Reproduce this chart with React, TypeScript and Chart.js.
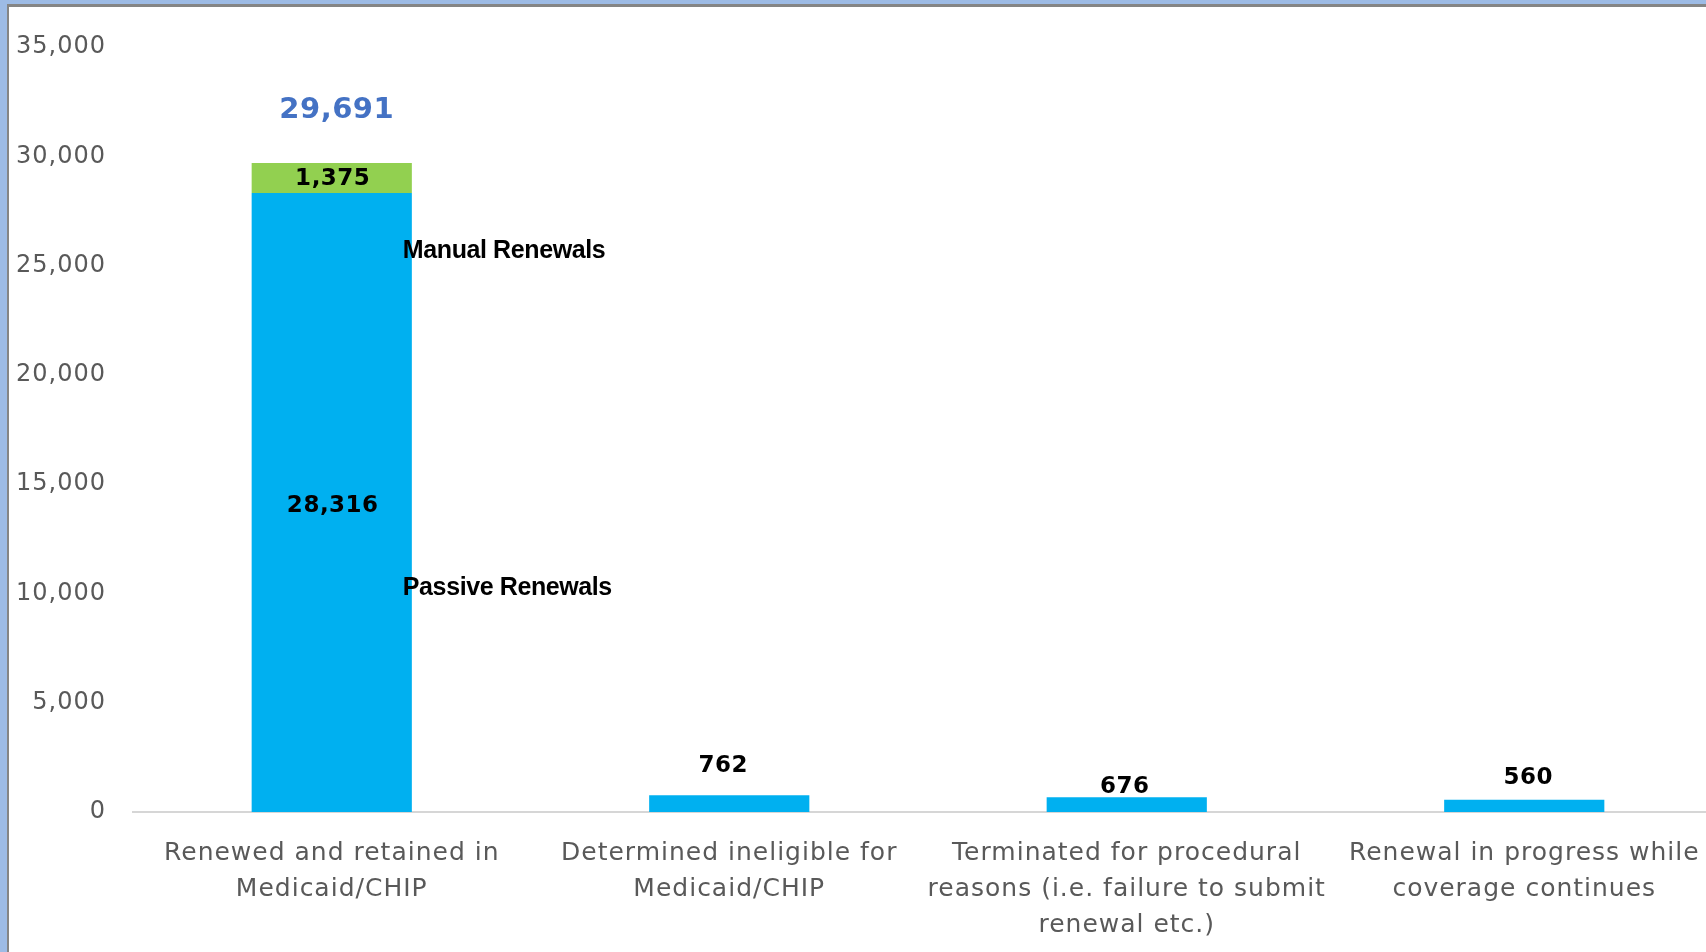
import React, { useEffect, useRef } from "react";
import { Chart, registerables } from "chart.js";

Chart.register(...registerables);

// ---- data ----
const CATEGORIES: string[][] = [
  ["Renewed and retained in", "Medicaid/CHIP"],
  ["Determined ineligible for", "Medicaid/CHIP"],
  ["Terminated for procedural", "reasons (i.e. failure to submit", "renewal etc.)"],
  ["Renewal in progress while", "coverage continues"],
];
const PASSIVE_RENEWALS: (number | null)[] = [28316, null, null, null];
const MANUAL_RENEWALS: (number | null)[] = [1375, null, null, null];
const OTHER_OUTCOMES: (number | null)[] = [null, 762, 676, 560];
const SERIES_NAMES = ["Passive Renewals", "Manual Renewals"];
// value (in data units) at which each series name is written next to the first bar
const SERIES_NAME_AT = [10240, 25650];
const Y_MIN = 0;
const Y_MAX = 35000;
const Y_STEP = 5000;

// ---- styles ----
const BLUE = "#00B0F0";
const GREEN = "#92D050";
const TOTAL_COLOR = "#4472C4";
const AXIS_TEXT = "#595959";
const FONT = "'DejaVu Sans', Verdana, sans-serif";
const LABEL_FONT = "'Liberation Sans', Arial, sans-serif";
// offsets (px) of each small-bar label centre relative to its bar top
const OTHER_LABEL_GAP = [0, 29, 10, 22];
const OTHER_LABEL_DX = [0, -6, -2, 4];

const fmt = (v: number) => v.toLocaleString("en-US");

const labelPlugin = {
  id: "valueLabels",
  beforeDraw(chart: any) {
    (chart.ctx as any).letterSpacing = "1px";
  },
  afterDatasetsDraw(chart: any) {
    const ctx = chart.ctx as any;
    const yScale = chart.scales.y;
    ctx.save();
    ctx.letterSpacing = "0.5px";
    ctx.textAlign = "center";
    ctx.textBaseline = "middle";

    const passiveMeta = chart.getDatasetMeta(0);
    const manualMeta = chart.getDatasetMeta(1);
    const otherMeta = chart.getDatasetMeta(2);

    // stacked segments of the first bar
    ctx.font = `bold 23px ${FONT}`;
    ctx.fillStyle = "#000";
    PASSIVE_RENEWALS.forEach((v, i) => {
      if (v == null) return;
      const el = passiveMeta.data[i].getProps(["x", "y", "base"], true);
      ctx.fillText(fmt(v), el.x + 1, (el.y + el.base) / 2 + 3);
    });
    MANUAL_RENEWALS.forEach((v, i) => {
      if (v == null) return;
      const el = manualMeta.data[i].getProps(["x", "y", "base"], true);
      ctx.fillText(fmt(v), el.x + 1, (el.y + el.base) / 2 + 1);
    });

    // total above the stacked bar
    PASSIVE_RENEWALS.forEach((v, i) => {
      if (v == null) return;
      const total = v + (MANUAL_RENEWALS[i] ?? 0);
      const el = manualMeta.data[i].getProps(["x", "y"], true);
      ctx.font = `bold 29px ${FONT}`;
      ctx.fillStyle = TOTAL_COLOR;
      ctx.fillText(fmt(total), el.x + 5, el.y - 53);
    });

    // single bars
    ctx.font = `bold 23px ${FONT}`;
    ctx.fillStyle = "#000";
    OTHER_OUTCOMES.forEach((v, i) => {
      if (v == null) return;
      const el = otherMeta.data[i].getProps(["x", "y"], true);
      ctx.fillText(fmt(v), el.x + OTHER_LABEL_DX[i], el.y - OTHER_LABEL_GAP[i]);
    });

    // series names to the right of the first bar
    const first = passiveMeta.data[0].getProps(["x", "width"], true);
    ctx.textAlign = "left";
    ctx.font = `bold 25px ${LABEL_FONT}`;
    ctx.letterSpacing = "-0.4px";
    ctx.fillStyle = "#000";
    SERIES_NAMES.forEach((name, k) => {
      ctx.fillText(name, first.x + first.width / 2 - 9, yScale.getPixelForValue(SERIES_NAME_AT[k]));
    });
    ctx.restore();
    ctx.letterSpacing = "1px";
  },
  afterDraw(chart: any) {
    (chart.ctx as any).letterSpacing = "0px";
  },
};

export default function App() {
  const ref = useRef<HTMLCanvasElement>(null);

  useEffect(() => {
    if (!ref.current) return;
    Chart.defaults.font.family = FONT;
    const chart = new Chart(ref.current, {
      type: "bar",
      data: {
        labels: CATEGORIES as any,
        datasets: [
          { label: SERIES_NAMES[0], data: PASSIVE_RENEWALS, backgroundColor: BLUE, stack: "s" },
          { label: SERIES_NAMES[1], data: MANUAL_RENEWALS, backgroundColor: GREEN, stack: "s" },
          { label: "Other", data: OTHER_OUTCOMES, backgroundColor: BLUE, stack: "s" },
        ],
      },
      options: {
        responsive: false,
        animation: false,
        events: [],
        layout: { padding: { left: 9, top: 47, right: 17, bottom: 0 } },
        plugins: { legend: { display: false }, tooltip: { enabled: false } },
        datasets: { bar: { barPercentage: 0.403, categoryPercentage: 1 } },
        scales: {
          x: {
            stacked: true,
            grid: { display: false, drawTicks: false },
            border: { display: true, color: "#d6d6d6", width: 2 },
            ticks: {
              color: AXIS_TEXT,
              font: { family: FONT, size: 25, lineHeight: "36px" } as any,
              padding: 23,
              maxRotation: 0,
              minRotation: 0,
              autoSkip: false,
            },
            afterFit: (s: any) => {
              s.height = 140;
            },
          },
          y: {
            stacked: true,
            min: Y_MIN,
            max: Y_MAX,
            grid: { display: false, drawTicks: false },
            border: { display: false },
            ticks: {
              stepSize: Y_STEP,
              color: AXIS_TEXT,
              font: { family: FONT, size: 24 },
              padding: 27,
              callback: (v: any) => fmt(Number(v)),
            },
            afterFit: (s: any) => {
              s.width = 124;
            },
          },
        },
      },
      plugins: [labelPlugin],
    });
    return () => chart.destroy();
  }, []);

  return (
    <div
      style={{
        position: "fixed",
        left: 0,
        top: 0,
        width: 1706,
        height: 952,
        overflow: "hidden",
        background: "#fff",
      }}
    >
      <canvas
        ref={ref}
        width={1740}
        height={952}
        style={{ position: "absolute", left: 0, top: 0, width: 1740, height: 952 }}
      />
      <div style={{ position: "absolute", left: 0, top: 0, width: "100%", height: 4, background: "#9dbbe5" }} />
      <div style={{ position: "absolute", left: 7, top: 4, width: "100%", height: 3, background: "#858585" }} />
      <div style={{ position: "absolute", left: 0, top: 0, width: 7, height: "100%", background: "#9dbbe5" }} />
      <div style={{ position: "absolute", left: 7, top: 4, width: 2, height: "100%", background: "#858585" }} />
    </div>
  );
}
